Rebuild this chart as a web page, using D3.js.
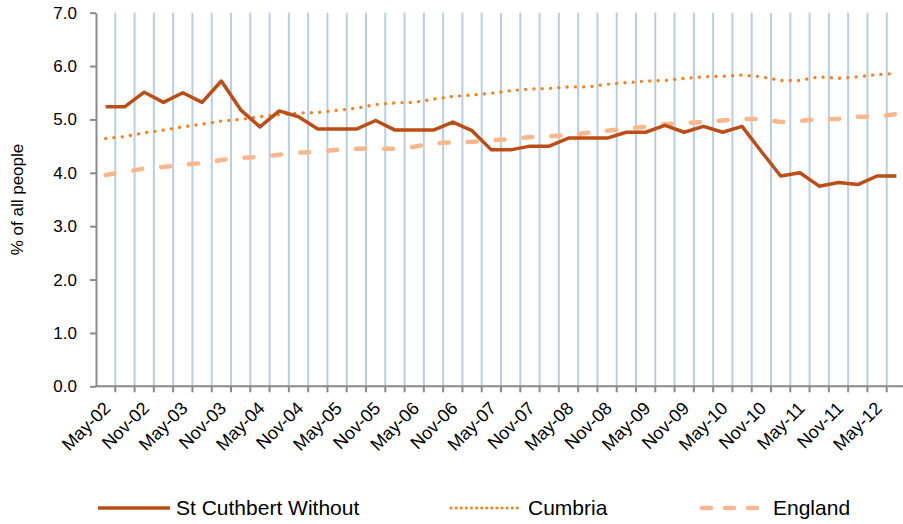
<!DOCTYPE html>
<html>
<head>
<meta charset="utf-8">
<script src="https://cdn.jsdelivr.net/npm/d3@7"></script>
<style>
  body { margin: 0; background: #fff; }
  svg { display: block; font-family: "Liberation Sans", Arial, sans-serif; }
</style>
</head>
<body>
<div id="chart"></div>
<script>
var categories = ["May-02","Aug-02","Nov-02","Feb-03","May-03","Aug-03","Nov-03","Feb-04",
  "May-04","Aug-04","Nov-04","Feb-05","May-05","Aug-05","Nov-05","Feb-06","May-06","Aug-06",
  "Nov-06","Feb-07","May-07","Aug-07","Nov-07","Feb-08","May-08","Aug-08","Nov-08","Feb-09",
  "May-09","Aug-09","Nov-09","Feb-10","May-10","Aug-10","Nov-10","Feb-11","May-11","Aug-11",
  "Nov-11","Feb-12","May-12","Aug-12"];

var stCuthbert = [5.24,5.24,5.51,5.32,5.50,5.32,5.72,5.18,4.86,5.16,
  5.05,4.82,4.82,4.82,4.98,4.80,4.80,4.80,4.95,4.79,
  4.43,4.43,4.50,4.50,4.65,4.65,4.65,4.76,4.76,4.89,
  4.76,4.87,4.76,4.87,4.40,3.94,4.00,3.75,3.82,3.78,
  3.94,3.94];

var cumbria = [4.64,4.68,4.75,4.80,4.86,4.91,4.97,5.00,5.05,5.09,
  5.12,5.13,5.17,5.21,5.28,5.31,5.32,5.38,5.43,5.46,
  5.49,5.54,5.57,5.58,5.61,5.61,5.66,5.69,5.72,5.73,
  5.77,5.80,5.81,5.83,5.80,5.73,5.73,5.80,5.77,5.80,
  5.84,5.86];

var england = [3.96,4.02,4.08,4.11,4.15,4.18,4.24,4.28,4.30,4.34,
  4.38,4.39,4.43,4.45,4.45,4.45,4.49,4.55,4.57,4.58,
  4.61,4.63,4.67,4.68,4.71,4.75,4.79,4.83,4.86,4.91,
  4.93,4.95,4.98,5.01,5.01,4.95,4.97,5.01,5.01,5.05,
  5.05,5.10];

var yTicks = [0,1,2,3,4,5,6,7];
var xLabels = ["May-02","Nov-02","May-03","Nov-03","May-04","Nov-04","May-05","Nov-05",
  "May-06","Nov-06","May-07","Nov-07","May-08","Nov-08","May-09","Nov-09","May-10",
  "Nov-10","May-11","Nov-11","May-12"];

var seriesNames = ["St Cuthbert Without","Cumbria","England"];

(function() {
  var width = 903, height = 524;
  var plotLeft = 96, plotRight = 906, plotTop = 12.7, plotBottom = 386.3;
  var axisColor = "#898989";

  var svg = d3.select("#chart").append("svg")
    .attr("width", width)
    .attr("height", height);

  svg.append("rect").attr("width", width).attr("height", height).attr("fill", "#fff");

  var x = d3.scaleBand().domain(categories).range([plotLeft, plotRight]);
  var y = d3.scaleLinear().domain([0, 7]).range([plotBottom, plotTop]);

  // vertical gridlines at category boundaries
  svg.append("g").selectAll("line")
    .data(categories)
    .enter().append("line")
      .attr("x1", function(d) { return x(d) + x.bandwidth(); })
      .attr("x2", function(d) { return x(d) + x.bandwidth(); })
      .attr("y1", plotTop)
      .attr("y2", plotBottom)
      .attr("stroke", "#b9cde5")
      .attr("stroke-width", 2);

  // y axis
  var yAxis = svg.append("g")
    .attr("transform", "translate(" + plotLeft + ",0)")
    .call(d3.axisLeft(y).tickValues(yTicks).tickFormat(d3.format(".1f")).tickSize(6).tickSizeOuter(0).tickPadding(13));
  yAxis.select(".domain").attr("stroke", axisColor).attr("stroke-width", 2);
  yAxis.selectAll(".tick line").attr("stroke", axisColor).attr("stroke-width", 2);
  yAxis.selectAll("text").attr("fill", "#000").style("font-size", "17px").style("font-family", "Liberation Sans, Arial, sans-serif");

  svg.append("text")
    .attr("transform", "translate(23," + ((plotTop + plotBottom) / 2) + ") rotate(-90)")
    .attr("text-anchor", "middle")
    .style("font-size", "17px")
    .text("% of all people");

  // x axis line and ticks at category boundaries
  svg.append("line")
    .attr("x1", plotLeft).attr("x2", width)
    .attr("y1", plotBottom).attr("y2", plotBottom)
    .attr("stroke", axisColor).attr("stroke-width", 2);

  svg.append("g").selectAll("line")
    .data(categories)
    .enter().append("line")
      .attr("x1", function(d) { return x(d) + x.bandwidth(); })
      .attr("x2", function(d) { return x(d) + x.bandwidth(); })
      .attr("y1", plotBottom)
      .attr("y2", plotBottom + 6)
      .attr("stroke", axisColor)
      .attr("stroke-width", 2);

  svg.append("g").selectAll("text")
    .data(xLabels)
    .enter().append("text")
      .attr("transform", function(d) {
        return "translate(" + (x(d) + x.bandwidth() / 2 + 6) + "," + (plotBottom + 23) + ") rotate(-45)";
      })
      .attr("text-anchor", "end")
      .style("font-size", "18px")
      .text(function(d) { return d; });

  // series lines
  var line = d3.line()
    .x(function(d, i) { return x(categories[i]) + x.bandwidth() / 2; })
    .y(function(d) { return y(d); });

  svg.append("path")
    .attr("d", line(england))
    .attr("fill", "none")
    .attr("stroke", "#fab78b")
    .attr("stroke-width", 4.5)
    .attr("stroke-linecap", "round")
    .attr("stroke-dasharray", "9,19");

  svg.append("path")
    .attr("d", line(cumbria))
    .attr("fill", "none")
    .attr("stroke", "#f5821f")
    .attr("stroke-width", 3.3)
    .attr("stroke-linecap", "round")
    .attr("stroke-dasharray", "0.1,8.2");

  svg.append("path")
    .attr("d", line(stCuthbert))
    .attr("fill", "none")
    .attr("stroke", "#bc4d15")
    .attr("stroke-width", 3.5)
    .attr("stroke-linejoin", "round");

  // legend
  var legend = [
    { name: seriesNames[0], x1: 98, x2: 170, tx: 176, color: "#bc4d15", w: 3.5, dash: null, cap: "butt" },
    { name: seriesNames[1], x1: 451, x2: 520, tx: 528, color: "#f5821f", w: 3, dash: "0.1,5", cap: "round" },
    { name: seriesNames[2], x1: 702, x2: 765, tx: 773, color: "#fab78b", w: 4.5, dash: "9,14", cap: "round" }
  ];
  var ly = 508;
  var lg = svg.append("g").selectAll("g").data(legend).enter().append("g");
  lg.append("line")
    .attr("x1", function(d) { return d.x1; })
    .attr("x2", function(d) { return d.x2; })
    .attr("y1", ly).attr("y2", ly)
    .attr("stroke", function(d) { return d.color; })
    .attr("stroke-width", function(d) { return d.w; })
    .attr("stroke-linecap", function(d) { return d.cap; })
    .attr("stroke-dasharray", function(d) { return d.dash; });
  lg.append("text")
    .attr("x", function(d) { return d.tx; })
    .attr("y", ly + 7)
    .style("font-size", "21px")
    .text(function(d) { return d.name; });
})();
</script>
</body>
</html>
